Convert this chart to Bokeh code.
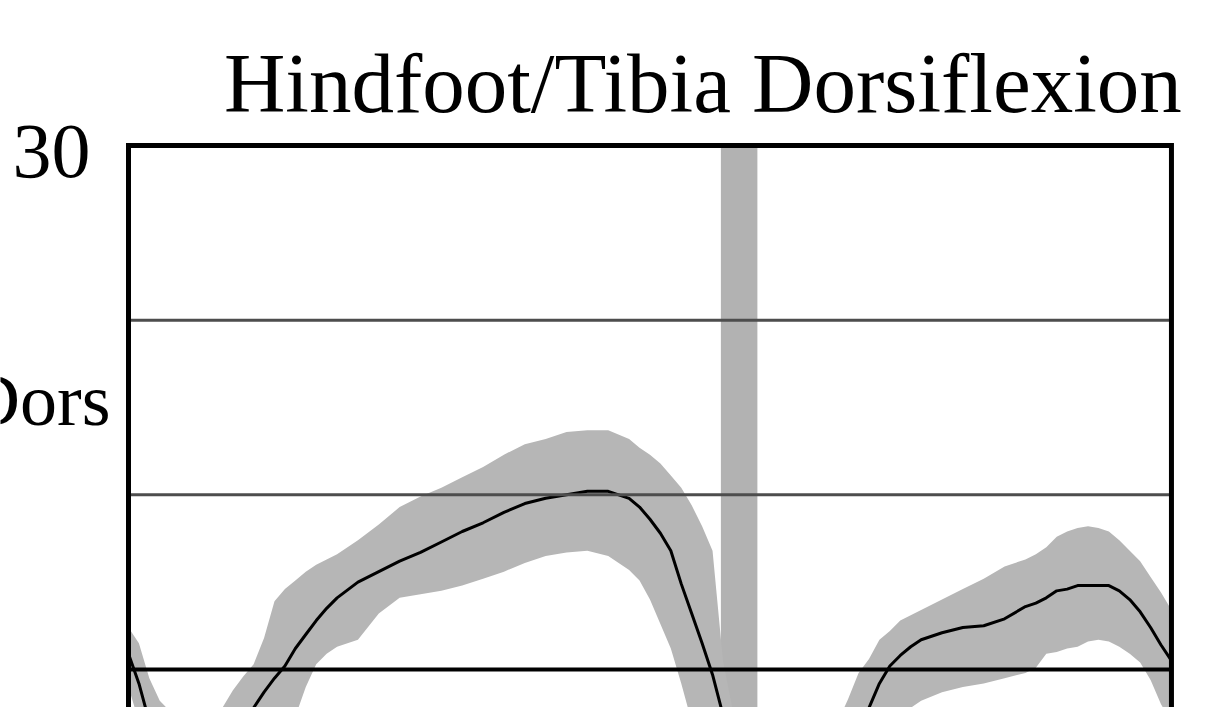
from bokeh.plotting import figure
from bokeh.models import Range1d, Label
from bokeh.embed import file_html
from bokeh.resources import INLINE

# % gait cycle
pct = [0, 1, 2, 3, 5, 7, 9, 10, 11, 12, 13, 14, 15, 16, 17, 18, 19, 20, 22, 24, 26, 28, 30,
       32, 34, 36, 38, 40, 42, 44, 46, 48, 49, 50, 51, 52, 53, 54, 55, 56, 57, 58, 60, 62,
       64, 66, 68, 69, 70, 71, 72, 73, 74, 75, 76, 78, 80, 82, 84, 86, 87, 88, 89, 90, 91,
       92, 93, 94, 95, 96, 97, 98, 99, 100]
# mean dorsiflexion (deg)
mean_deg = [0.9, -0.8, -3.0, -4.5, -6.0, -6.0, -5.0, -4.2, -3.3, -2.2, -1.3, -0.5, 0.2, 1.2,
            2.0, 2.8, 3.5, 4.1, 5.0, 5.6, 6.2, 6.7, 7.3, 7.9, 8.4, 9.0, 9.5, 9.8, 10.0, 10.2,
            10.2, 9.8, 9.3, 8.6, 7.8, 6.8, 4.9, 3.2, 1.5, -0.3, -2.6, -5.5, -9.5, -11.5,
            -11.0, -9.0, -6.5, -5.0, -3.8, -2.2, -0.8, 0.2, 0.8, 1.3, 1.7, 2.1, 2.4, 2.5,
            2.9, 3.6, 3.8, 4.1, 4.5, 4.6, 4.8, 4.8, 4.8, 4.8, 4.5, 4.0, 3.3, 2.4, 1.4, 0.5]
# mean + 1 SD
upper_deg = [2.4, 1.5, -0.5, -1.8, -3.0, -3.0, -2.2, -1.2, -0.4, 0.3, 1.8, 3.9, 4.6, 5.1,
             5.6, 6.0, 6.3, 6.6, 7.4, 8.3, 9.3, 9.9, 10.4, 11.0, 11.6, 12.3, 12.9, 13.2,
             13.6, 13.7, 13.7, 13.2, 12.7, 12.3, 11.8, 11.1, 10.4, 9.4, 8.2, 6.8, 0.5, -2.5,
             -6.0, -8.0, -7.5, -5.5, -3.0, -1.7, -0.2, 0.6, 1.7, 2.2, 2.8, 3.1, 3.4, 4.0,
             4.6, 5.2, 5.9, 6.3, 6.6, 7.0, 7.6, 7.9, 8.1, 8.2, 8.1, 7.9, 7.4, 6.8, 6.2, 5.3,
             4.4, 3.4]
# mean - 1 SD
lower_deg = [-1.0, -3.0, -5.5, -7.0, -8.5, -8.5, -8.0, -7.0, -6.0, -5.0, -4.0, -3.2, -2.5,
             -2.7, -1.0, 0.3, 0.9, 1.3, 1.7, 3.2, 4.1, 4.3, 4.5, 4.8, 5.2, 5.6, 6.1, 6.5,
             6.7, 6.8, 6.5, 5.7, 5.1, 4.0, 2.6, 1.2, -0.8, -3.0, -5.0, -7.0, -9.0, -11.0,
             -14.0, -15.0, -14.5, -12.5, -10.0, -9.0, -7.5, -6.0, -5.0, -4.2, -2.5, -2.2,
             -1.8, -1.3, -1.0, -0.8, -0.5, -0.2, 0.1, 0.9, 1.0, 1.2, 1.3, 1.6, 1.7, 1.6, 1.3,
             0.9, 0.4, -0.6, -2.0, -3.0]
# toe-off (% gait cycle) mean and SD
toe_off_mean = 58.55
toe_off_sd = 1.75

title_text = "Hindfoot/Tibia Dorsiflexion"
y_ticks = [30]
y_tick_labels = ["30"]
grid_values = [10, 20]
side_label = "Dors"

# plotting window (the lower part of the panel is cut off, as in the source image)
x_lo, x_hi = 0, 100
y_top = 30
view_x = (-12.27, 103.36)
view_y = (-2.18, 38.31)

SERIF = "Liberation Serif"

p = figure(width=1206, height=707, output_backend="svg", toolbar_location=None,
           x_range=Range1d(*view_x), y_range=Range1d(*view_y),
           x_axis_location=None, y_axis_location=None,
           min_border_left=0, min_border_right=0, min_border_top=0, min_border_bottom=0)
p.outline_line_color = None
p.xgrid.visible = False
p.ygrid.visible = False
p.background_fill_color = "white"
p.border_fill_color = "white"

# toe-off band
p.quad(left=[toe_off_mean - toe_off_sd], right=[toe_off_mean + toe_off_sd],
       bottom=[view_y[0]], top=[y_top], fill_color="#b2b2b2", line_color=None)

# SD band and mean curve
p.varea(x=pct, y1=lower_deg, y2=upper_deg, fill_color="#b6b6b6", fill_alpha=1.0)
p.line(x=pct, y=mean_deg, line_color="black", line_width=3)

# horizontal grid lines
p.segment(x0=[x_lo] * len(grid_values), x1=[x_hi] * len(grid_values),
          y0=grid_values, y1=grid_values, line_color="#4d4d4d", line_width=3)
# zero line
p.segment(x0=[x_lo], x1=[x_hi], y0=[0], y1=[0], line_color="black", line_width=4)
# frame border (left, top, right)
p.line(x=[x_lo, x_lo, x_hi, x_hi], y=[view_y[0], y_top, y_top, view_y[0]],
       line_color="black", line_width=5, line_join="miter")

# y tick label
for yv, lab in zip(y_ticks, y_tick_labels):
    p.add_layout(Label(x=x_lo, y=yv, x_offset=-38, y_offset=-6, text=lab,
                       text_align="right", text_baseline="middle", text_font=SERIF,
                       text_font_size="78px", text_color="black"))

# side label
p.add_layout(Label(x=x_lo, y=15.45, x_offset=-18, text=side_label, text_align="right",
                   text_baseline="alphabetic", text_font=SERIF, text_font_size="74px",
                   text_color="black"))

# title
p.add_layout(Label(x=55.07, y=33.56, text=title_text, text_align="center",
                   text_baseline="alphabetic", text_font=SERIF, text_font_size="85px",
                   text_color="black"))

open("out.html", "w").write(file_html(p, INLINE))
